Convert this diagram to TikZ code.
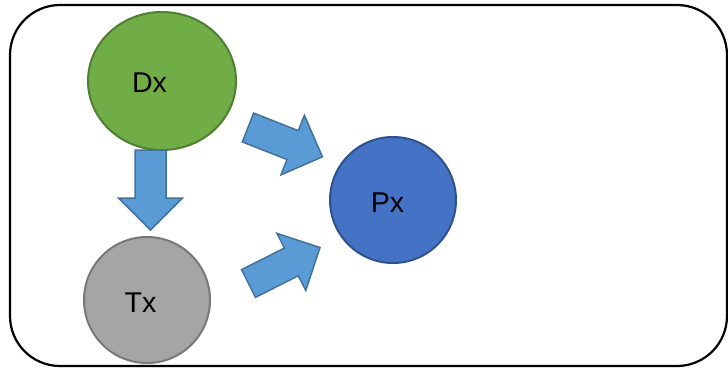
\documentclass[tikz,border=0pt]{standalone}
\usepackage{fontspec}
\setmainfont{Liberation Sans}
\usetikzlibrary{shapes.geometric}
\definecolor{dxfill}{HTML}{70AD47}
\definecolor{dxline}{HTML}{507E32}
\definecolor{txfill}{HTML}{A5A5A5}
\definecolor{txline}{HTML}{787878}
\definecolor{pxfill}{HTML}{4472C4}
\definecolor{pxline}{HTML}{2F528F}
\definecolor{arfill}{HTML}{5B9BD5}
\definecolor{arline}{HTML}{41719C}
\newcommand{\blockarrow}[2]{%
  \begin{scope}[shift={(#1)}, rotate=#2]
    \draw[barrow] (0,15.5) -- (48,15.5) -- (48,32) -- (80,0) -- (48,-32) -- (48,-15.5) -- (0,-15.5) -- cycle;
  \end{scope}}
\begin{document}
\begin{tikzpicture}[x=1pt,y=-1pt,
  blob/.style={draw, line width=2pt, inner sep=0pt},
  lbl/.style={anchor=base, inner sep=0pt, font=\fontsize{28.6}{30}\selectfont},
  barrow/.style={fill=arfill, draw=arline, line width=1.5pt, line join=miter}]
\useasboundingbox (0,0) rectangle (728,368);
\draw[line width=2.2pt, rounded corners=50pt] (10,5) rectangle (727,366);
\node[blob, ellipse, fill=dxfill, draw=dxline, minimum width=148pt, minimum height=138pt] (dx) at (162,81) {};
\node[blob, circle, fill=txfill, draw=txline, minimum size=126pt] (tx) at (147,300) {};
\node[blob, circle, fill=pxfill, draw=pxline, minimum size=126pt] (px) at (393,200) {};
\node[lbl] (dxl) at (149.5,92) {Dx};
\node[lbl] (txl) at (140.5,312) {Tx};
\node[lbl] (pxl) at (387.5,212) {Px};
\coordinate (a1) at (150.5,150);
\coordinate (a2) at (248,127.5);
\coordinate (a3) at (248.5,283.5);
\blockarrow{a1}{-90}
\blockarrow{a2}{-21.5}
\blockarrow{a3}{26.7}
\end{tikzpicture}
\end{document}
